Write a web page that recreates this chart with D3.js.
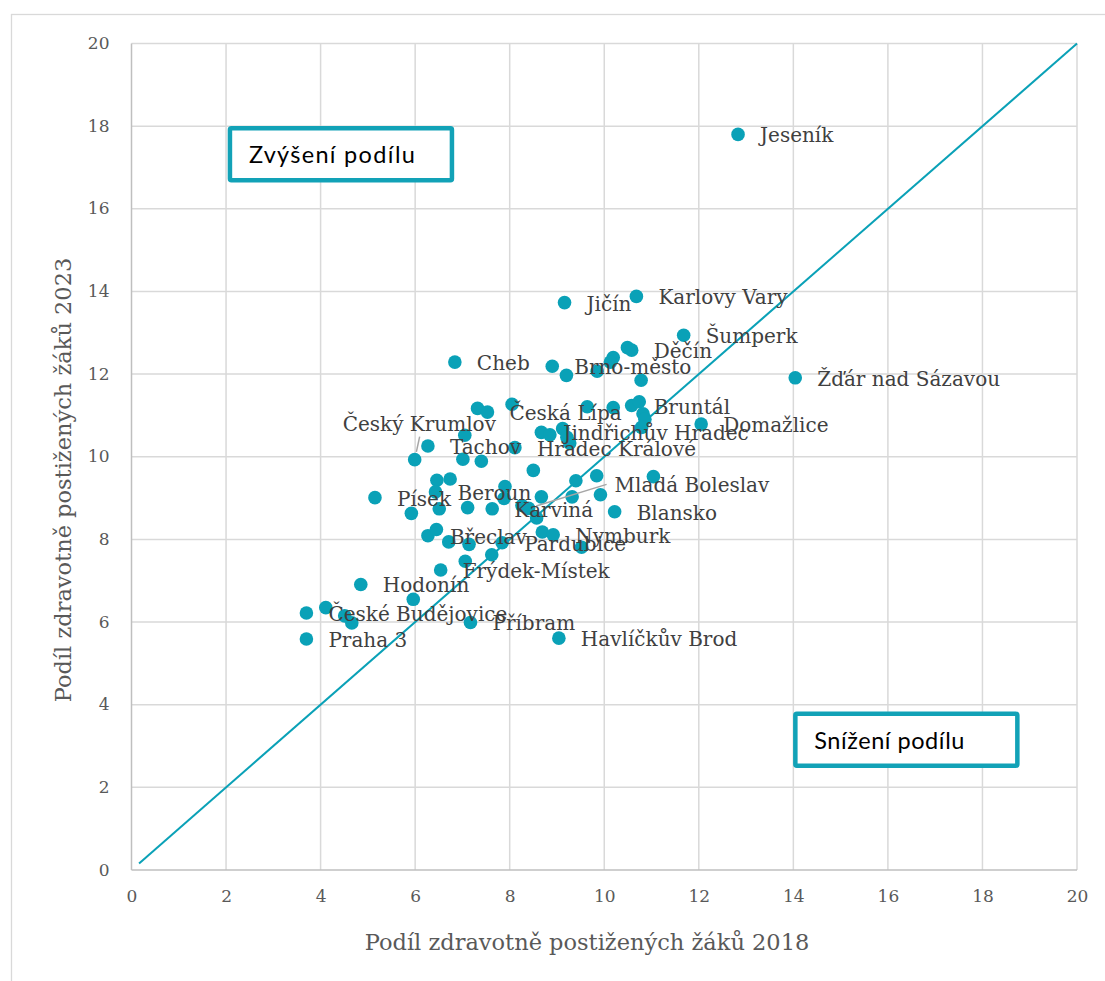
<!DOCTYPE html>
<html>
<head>
<meta charset="utf-8">
<script src="https://cdn.jsdelivr.net/npm/d3@7"></script>
<style>
  html, body { margin: 0; padding: 0; background: #ffffff; }
  svg { display: block; }
</style>
</head>
<body>
<svg id="chart" width="1105" height="981"></svg>
<script>
// ---------------- DATA ----------------
const names = [
  "Jeseník","Karlovy Vary","Jičín","Šumperk","","Děčín","","","Cheb","Brno-město",
  "","","","Žďár nad Sázavou","","Česká Lípa","","","","Bruntál",
  "","","","","Domažlice","Jindřichův Hradec","","","","",
  "","Tachov","Český Krumlov","","","Hradec Králové","","","","Beroun",
  "Písek","","","","Karviná","","","","Mladá Boleslav","",
  "","","Nymburk","","","","","Blansko","","Břeclav",
  "","","","Pardubice","","","","Frýdek-Místek","Hodonín","",
  "","České Budějovice","","","Příbram","Havlíčkův Brod","Praha 3"
];
const x2018 = [
  12.83,10.68,9.16,11.68,10.49,10.58,10.19,10.13,6.84,8.90,
  9.20,9.85,10.78,14.04,7.32,7.53,8.05,9.64,10.19,10.58,
  10.74,10.82,10.86,10.79,12.05,8.67,8.85,9.12,9.21,9.27,
  7.05,6.27,5.99,7.01,7.40,8.11,8.50,6.46,6.74,6.43,
  5.15,5.92,6.51,7.11,7.63,7.90,7.88,8.26,8.40,8.67,
  8.57,8.69,8.92,9.40,9.84,9.32,9.92,10.22,11.04,6.27,
  6.45,6.71,7.14,7.84,9.52,7.62,7.06,6.54,4.85,5.96,
  4.11,3.70,4.51,4.66,7.17,9.04,3.70
];
const y2023 = [
  17.80,13.88,13.73,12.94,12.64,12.58,12.40,12.29,12.29,12.19,
  11.97,12.07,11.85,11.91,11.17,11.08,11.27,11.21,11.19,11.24,
  11.33,11.04,10.91,10.71,10.79,10.59,10.53,10.68,10.47,10.33,
  10.52,10.26,9.93,9.94,9.89,10.22,9.67,9.43,9.46,9.15,
  9.01,8.63,8.74,8.77,8.74,9.28,8.99,8.82,8.75,9.03,
  8.52,8.18,8.11,9.42,9.54,9.03,9.08,8.67,9.52,8.09,
  8.24,7.94,7.88,7.92,7.81,7.63,7.47,7.26,6.91,6.55,
  6.35,6.22,6.15,5.98,5.99,5.61,5.59
];
const diagX = [0.16, 20];
const diagY = [0.16, 20];
const xTicks = [0,2,4,6,8,10,12,14,16,18,20];
const yTicks = [0,2,4,6,8,10,12,14,16,18,20];
const xTitle = "Podíl zdravotně postižených žáků 2018";
const yTitle = "Podíl zdravotně postižených žáků 2023";
const boxTexts = ["Zvýšení podílu", "Snížení podílu"];
const boxAnchorX = [2.04, 14.0];
const boxAnchorY = [18.0, 3.83];

// ---------------- LAYOUT ----------------
const teal = "#0aa1b7";
const labelColor = "#404040";
const axisTextColor = "#595959";
const labelFont = "'DejaVu Serif', serif";
const defaultOffset = [22, 1];
const labelOffsets = {
  "Český Krumlov": [-72, -36],
  "Mladá Boleslav": [86, -23]
};
const boxTextWidths = [166, 150];

const svg = d3.select("#chart");
const x = d3.scaleLinear().domain([0, 20]).range([131.5, 1077]);
const y = d3.scaleLinear().domain([0, 20]).range([870, 43.5]);

// outer chart border
svg.append("rect")
  .attr("x", 11.5).attr("y", 14.5)
  .attr("width", 1200).attr("height", 1000)
  .attr("fill", "none").attr("stroke", "#d9d9d9").attr("stroke-width", 1.3);

// gridlines
const grid = svg.append("g");
grid.selectAll("line.v").data(xTicks.filter(d => d > 0)).join("line")
  .attr("x1", d => x(d)).attr("x2", d => x(d))
  .attr("y1", y(0)).attr("y2", y(20))
  .attr("stroke", "#d9d9d9").attr("stroke-width", 1.5);
grid.selectAll("line.h").data(yTicks.filter(d => d > 0)).join("line")
  .attr("y1", d => y(d)).attr("y2", d => y(d))
  .attr("x1", x(0)).attr("x2", x(20))
  .attr("stroke", "#d9d9d9").attr("stroke-width", 1.5);

// axis lines
svg.append("line").attr("x1", x(0)).attr("x2", x(20)).attr("y1", y(0)).attr("y2", y(0))
  .attr("stroke", "#bfbfbf").attr("stroke-width", 1.5);
svg.append("line").attr("x1", x(0)).attr("x2", x(0)).attr("y1", y(0)).attr("y2", y(20))
  .attr("stroke", "#bfbfbf").attr("stroke-width", 1.5);

// axes (labels only)
const xAxis = d3.axisBottom(x).tickValues(xTicks).tickSize(0).tickPadding(0).tickFormat(d3.format("d"));
const gx = svg.append("g").attr("transform", `translate(0, ${y(0) + 32})`).call(xAxis);
gx.select(".domain").remove();
gx.selectAll("text").attr("font-family", labelFont).attr("font-size", 17)
  .attr("fill", axisTextColor).attr("dy", "0");

const yAxis = d3.axisLeft(y).tickValues(yTicks).tickSize(0).tickPadding(0).tickFormat(d3.format("d"));
const gy = svg.append("g").attr("transform", `translate(${x(0) - 22}, 0)`).call(yAxis);
gy.select(".domain").remove();
gy.selectAll("text").attr("font-family", labelFont).attr("font-size", 17)
  .attr("fill", axisTextColor).attr("dy", "0.3em");

// axis titles
svg.append("text").attr("x", 587).attr("y", 942).attr("dy", "0.35em")
  .attr("text-anchor", "middle").attr("font-family", labelFont).attr("font-size", 22.5)
  .attr("fill", axisTextColor).text(xTitle);
svg.append("text").attr("transform", "translate(63,480) rotate(-90)").attr("dy", "0.35em")
  .attr("text-anchor", "middle").attr("font-family", labelFont).attr("font-size", 22.5)
  .attr("fill", axisTextColor).text(yTitle);

// diagonal line
const pts = x2018.map((v, i) => ({ name: names[i], x: v, y: y2023[i] }));
svg.append("path")
  .datum(diagX.map((v, i) => [v, diagY[i]]))
  .attr("d", d3.line().x(d => x(d[0])).y(d => y(d[1])))
  .attr("fill", "none").attr("stroke", teal).attr("stroke-width", 2);

// points
svg.append("g").selectAll("circle").data(pts).join("circle")
  .attr("cx", d => x(d.x)).attr("cy", d => y(d.y)).attr("r", 6.8)
  .attr("fill", teal);

// labels
const labeled = pts.filter(d => d.name);
const lg = svg.append("g");
const leaders = lg.append("g");
const texts = lg.selectAll("text").data(labeled).join("text")
  .attr("x", d => x(d.x) + (labelOffsets[d.name] || defaultOffset)[0])
  .attr("y", d => y(d.y) + (labelOffsets[d.name] || defaultOffset)[1])
  .attr("dy", "0.35em")
  .attr("font-family", labelFont).attr("font-size", 20)
  .attr("fill", labelColor)
  .text(d => d.name);

// leader lines for moved labels
texts.each(function(d) {
  if (!labelOffsets[d.name]) return;
  const bb = this.getBBox();
  const px = x(d.x), py = y(d.y);
  let ax, ay;
  if (labelOffsets[d.name][0] < 0) { ax = bb.x + bb.width / 2; ay = bb.y + bb.height + 1; }
  else { ax = bb.x - 8; ay = bb.y + bb.height / 2 - 1; }
  const dx = ax - px, dy = ay - py, len = Math.hypot(dx, dy);
  leaders.append("line")
    .attr("x1", px + dx / len * 8).attr("y1", py + dy / len * 8)
    .attr("x2", ax).attr("y2", ay)
    .attr("stroke", "#a6a6a6").attr("stroke-width", 1.5);
});

// annotation boxes
boxTexts.forEach((t, i) => {
  const bx = x(boxAnchorX[i]), by = y(boxAnchorY[i]);
  const g = svg.append("g");
  g.append("rect").attr("x", bx + 2).attr("y", by + 2).attr("width", 222).attr("height", 52)
    .attr("rx", 1.5).attr("fill", "#ffffff").attr("stroke", "#12a2b7").attr("stroke-width", 4.5);
  g.append("text").attr("x", bx + 21).attr("y", by + 29).attr("dy", "0.35em")
    .attr("font-family", "Lato, 'Open Sans', sans-serif").attr("font-size", 23.5)
    .attr("textLength", boxTextWidths[i]).attr("lengthAdjust", "spacing")
    .attr("fill", "#000000").text(t);
});
</script>
</body>
</html>
